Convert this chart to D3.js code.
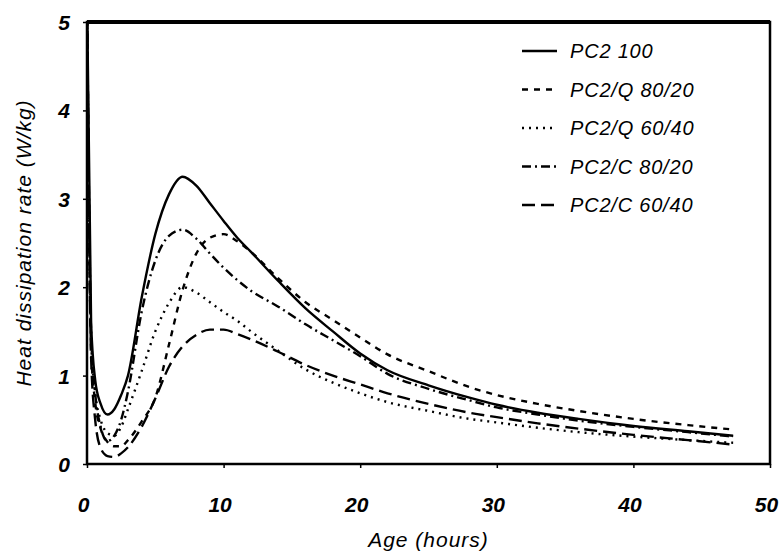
<!DOCTYPE html>
<html lang="en">
<head>
<meta charset="UTF-8">
<title>Heat dissipation rate</title>
<script src="https://d3js.org/d3.v7.min.js"></script>
<style>
  body { margin: 0; background: #fff; }
  svg { display: block; }
  text { font-family: "Liberation Sans", Arial, sans-serif; font-style: italic; fill: #000; }
  .tick-label { font-size: 21px; font-weight: bold; }
  .title { font-size: 21px; letter-spacing: 1px; }
  .legend-label { font-size: 20px; letter-spacing: 0.8px; }
</style>
</head>
<body>
<svg width="784" height="558"></svg>
<script>
// hours
const ages = [0, 0.3, 0.6, 1, 1.5, 2, 2.5, 3, 4, 5, 6, 7, 8, 9, 10, 11, 12, 14, 16, 18, 20, 22, 25, 28, 30, 33, 36, 40, 44, 47.3];

// W/kg
const pc2_100   = [5.3, 1.6, 0.95, 0.68, 0.56, 0.62, 0.78, 1.0, 1.88, 2.6, 3.05, 3.25, 3.15, 2.95, 2.75, 2.56, 2.4, 2.07, 1.76, 1.5, 1.25, 1.06, 0.89, 0.75, 0.67, 0.58, 0.51, 0.43, 0.37, 0.32];
const q_80_20   = [5.3, 1.3, 0.7, 0.4, 0.25, 0.2, 0.2, 0.27, 0.48, 0.75, 1.35, 1.97, 2.38, 2.56, 2.6, 2.52, 2.4, 2.1, 1.83, 1.63, 1.43, 1.24, 1.05, 0.87, 0.78, 0.68, 0.6, 0.51, 0.44, 0.39];
const q_60_40   = [5.3, 1.4, 0.8, 0.5, 0.35, 0.32, 0.42, 0.62, 1.05, 1.5, 1.82, 2.0, 1.94, 1.83, 1.72, 1.62, 1.5, 1.28, 1.07, 0.92, 0.8, 0.7, 0.6, 0.51, 0.47, 0.41, 0.36, 0.31, 0.27, 0.24];
const c_80_20   = [5.3, 1.5, 0.8, 0.42, 0.26, 0.32, 0.5, 0.82, 1.72, 2.3, 2.58, 2.65, 2.55, 2.38, 2.22, 2.08, 1.96, 1.78, 1.58, 1.4, 1.22, 1.02, 0.85, 0.72, 0.64, 0.56, 0.49, 0.42, 0.36, 0.31];
const c_60_40   = [5.3, 1.2, 0.5, 0.18, 0.09, 0.08, 0.12, 0.19, 0.42, 0.74, 1.1, 1.33, 1.46, 1.52, 1.52, 1.47, 1.41, 1.27, 1.12, 1.0, 0.9, 0.8, 0.68, 0.58, 0.53, 0.46, 0.4, 0.33, 0.27, 0.22];

const seriesNames = ["PC2 100", "PC2/Q 80/20", "PC2/Q 60/40", "PC2/C 80/20", "PC2/C 60/40"];
const seriesValues = [pc2_100, q_80_20, q_60_40, c_80_20, c_60_40];
const xTicks = [0, 10, 20, 30, 40, 50];
const yTicks = [0, 1, 2, 3, 4, 5];

const dashes = [null, "6,6", "2,5", "9,4,2,4", "13,6"];

const svg = d3.select("svg");
const m = { left: 87, right: 770, top: 22, bottom: 464 };

const x = d3.scaleLinear().domain([0, 50]).range([m.left, m.right]);
const y = d3.scaleLinear().domain([0, 5]).range([m.bottom, m.top]);

svg.append("clipPath").attr("id", "plot")
  .append("rect").attr("x", m.left).attr("y", m.top)
  .attr("width", m.right - m.left).attr("height", m.bottom - m.top);

// axes
const xAxis = svg.append("g")
  .attr("transform", `translate(0,${m.bottom})`)
  .call(d3.axisBottom(x).tickValues(xTicks).tickSize(4).tickFormat(d3.format("d")));
const yAxis = svg.append("g")
  .attr("transform", `translate(${m.left},0)`)
  .call(d3.axisLeft(y).tickValues(yTicks).tickSize(4).tickFormat(d3.format("d")));

[xAxis, yAxis].forEach(a => {
  a.select(".domain").remove();
  a.selectAll("line").attr("stroke", "#000").attr("stroke-width", 1.5);
  a.selectAll("text").attr("class", "tick-label").attr("fill", "#000");
});
xAxis.selectAll("text").attr("dy", null).attr("y", 48).attr("dx", -4);
yAxis.selectAll("text").attr("x", -17).attr("dy", "0.36em");

// frame
svg.append("rect")
  .attr("x", m.left).attr("y", m.top)
  .attr("width", m.right - m.left).attr("height", m.bottom - m.top)
  .attr("fill", "none").attr("stroke", "#000").attr("stroke-width", 2.5);
svg.append("line")
  .attr("x1", m.left).attr("x2", m.right).attr("y1", m.top).attr("y2", m.top)
  .attr("stroke", "#000").attr("stroke-width", 4);

// curves
const line = d3.line()
  .x((d, i) => x(ages[i]))
  .y(d => y(d))
  .curve(d3.curveMonotoneX);

const plot = svg.append("g").attr("clip-path", "url(#plot)");
plot.selectAll("path.series")
  .data(seriesValues)
  .join("path")
  .attr("class", "series")
  .attr("d", line)
  .attr("fill", "none")
  .attr("stroke", "#000")
  .attr("stroke-width", 2.4)
  .attr("stroke-dasharray", (d, i) => dashes[i]);

// legend
const legend = svg.append("g");
const rows = legend.selectAll("g")
  .data(seriesNames)
  .join("g")
  .attr("transform", (d, i) => `translate(522,${51 + i * 38.5})`);
rows.append("line")
  .attr("x1", 0).attr("x2", 35)
  .attr("stroke", "#000").attr("stroke-width", 2.4)
  .attr("stroke-dasharray", (d, i) => dashes[i]);
rows.append("text")
  .attr("class", "legend-label")
  .attr("x", 48).attr("dy", "0.35em")
  .text(d => d);

// axis titles
svg.append("text")
  .attr("class", "title")
  .attr("x", (m.left + m.right) / 2).attr("y", 547)
  .attr("text-anchor", "middle")
  .text("Age (hours)");
svg.append("text")
  .attr("class", "title")
  .attr("transform", `translate(31,${(m.top + m.bottom) / 2}) rotate(-90)`)
  .attr("text-anchor", "middle")
  .text("Heat dissipation rate (W/kg)");
</script>
</body>
</html>
